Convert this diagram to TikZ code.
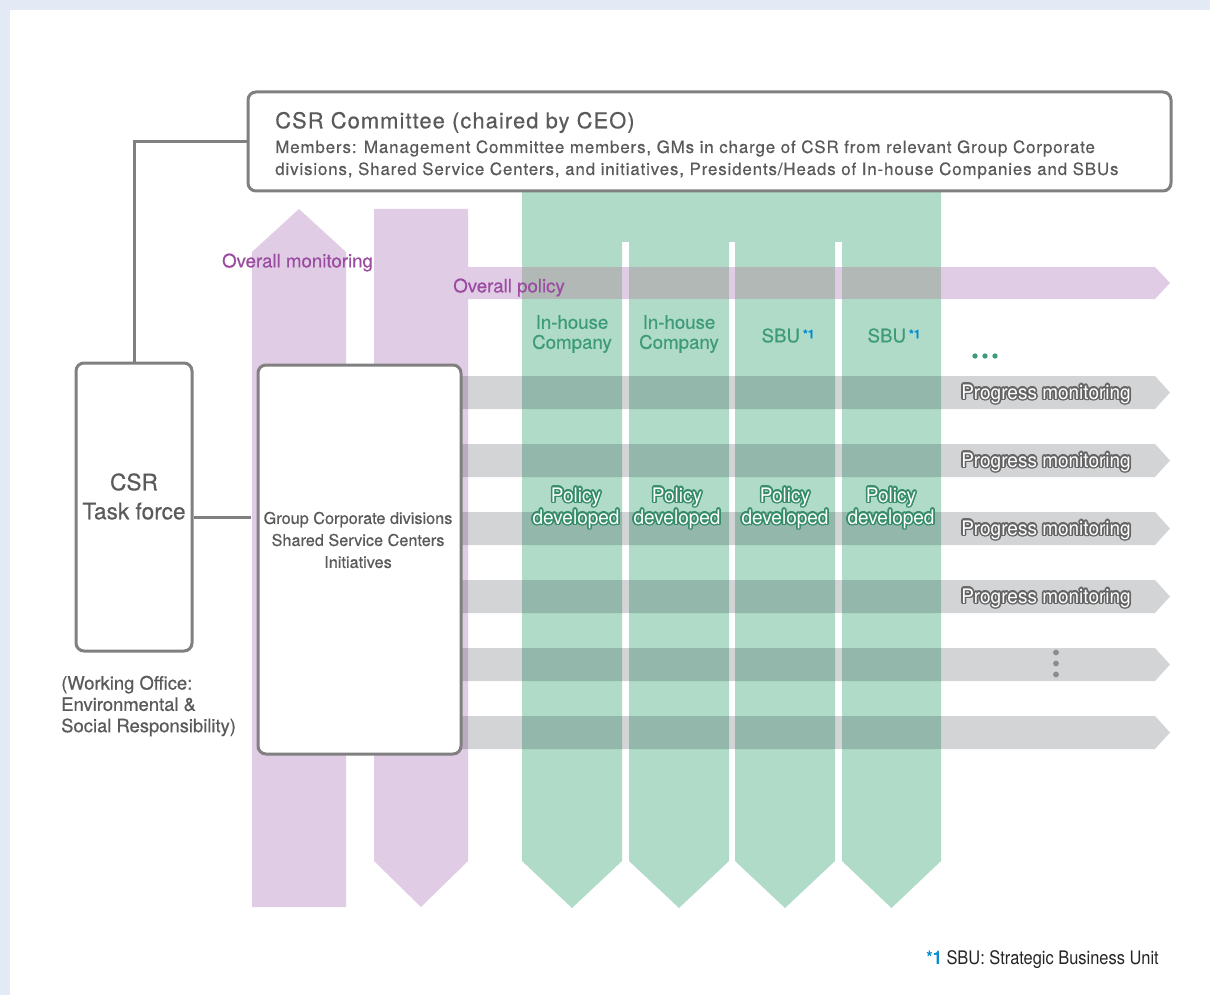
\documentclass[tikz,border=0pt]{standalone}
\usepackage{fontspec}
\setmainfont{TeX Gyre Heros}[FakeBold=0.5]
\newfontfamily\condfont[FakeStretch=0.88]{TeX Gyre Heros}
\newfontfamily\flowfont[FakeStretch=0.95]{TeX Gyre Heros}
\newfontfamily\trackfont[LetterSpace=5,FakeBold=0.5]{TeX Gyre Heros}
\usepackage[copies]{contour}
\contourlength{1.2pt}
\usepackage{tikz}

\definecolor{pagebg}{RGB}{227,233,245}
\definecolor{boxgray}{RGB}{128,128,128}
\definecolor{boxtext}{RGB}{90,90,90}
\definecolor{flowpurple}{RGB}{224,204,228}
\definecolor{purplegreen}{RGB}{177,184,181}
\definecolor{purpletext}{RGB}{155,76,162}
\definecolor{flowgreen}{RGB}{175,219,200}
\definecolor{greentext}{RGB}{62,155,122}
\definecolor{greenedge}{RGB}{52,140,104}
\definecolor{bandshade}{RGB}{35,40,50}
\definecolor{progressedge}{RGB}{100,100,100}
\definecolor{sbublue}{RGB}{0,140,210}
\definecolor{dotgray}{RGB}{140,140,140}

\tikzset{
  orgbox/.style={draw=boxgray, line width=2.25pt, rounded corners=6pt, fill=white, inner sep=0pt},
  conn/.style={draw=boxgray, line width=2.25pt},
  purpleflow/.style={fill=flowpurple},
  greenflow/.style={fill=flowgreen},
  grayflow/.style={fill=bandshade, fill opacity=0.2},
  boxlabel/.style={text=boxtext, inner sep=0.75pt},
  purplelabel/.style={text=purpletext, inner sep=0.75pt, font=\fontsize{14pt}{15pt}\selectfont},
  unitlabel/.style={text=greentext, inner sep=0.75pt, align=center, font=\fontsize{14pt}{15pt}\selectfont},
  policylabel/.style={text=white, inner sep=0.75pt, align=center, font=\flowfont\fontsize{15pt}{15pt}\selectfont},
  progresslabel/.style={text=white, inner sep=0.75pt, font=\flowfont\fontsize{15pt}{15pt}\selectfont}
}

\begin{document}
\begin{tikzpicture}[x=0.75pt,y=0.75pt,yscale=-1,xscale=1]
\useasboundingbox (0,0) rectangle (1210,995);

%Shape: page background
\fill[pagebg] (0,0) rectangle (1210,995);
\fill[white] (10,10) rectangle (1210,995);

%Shape: up arrow (overall monitoring)
\fill[purpleflow] (252,907) -- (252,252) -- (299,209) -- (346,252) -- (346,907) -- cycle;

%Shape: down arrow and overall policy arrow
\fill[purpleflow] (374,209) -- (468,209) -- (468,267) -- (1155,267) -- (1170,283) -- (1155,299) -- (468,299) -- (468,861) -- (421,907) -- (374,861) -- cycle;

%Shape: green columns
\fill[greenflow] (522,192) rectangle (941,242);
\fill[greenflow] (522,192) -- (622,192) -- (622,861) -- (572,908) -- (522,861) -- cycle;
\fill[greenflow] (629,192) -- (729,192) -- (729,861) -- (679,908) -- (629,861) -- cycle;
\fill[greenflow] (735,192) -- (835,192) -- (835,861) -- (785,908) -- (735,861) -- cycle;
\fill[greenflow] (842,192) -- (941,192) -- (941,861) -- (891.5,908) -- (842,861) -- cycle;

%Shape: overall policy over the columns
\fill[purplegreen] (522,267) rectangle (622,299);
\fill[purplegreen] (629,267) rectangle (729,299);
\fill[purplegreen] (735,267) rectangle (835,299);
\fill[purplegreen] (842,267) rectangle (941,299);

%Shape: progress arrows
\fill[grayflow] (459,376) -- (1155,376) -- (1170,392.5) -- (1155,409) -- (459,409) -- cycle;
\fill[grayflow] (459,444) -- (1155,444) -- (1170,460.5) -- (1155,477) -- (459,477) -- cycle;
\fill[grayflow] (459,512) -- (1155,512) -- (1170,528.5) -- (1155,545) -- (459,545) -- cycle;
\fill[grayflow] (459,580) -- (1155,580) -- (1170,596.5) -- (1155,613) -- (459,613) -- cycle;
\fill[grayflow] (459,648) -- (1155,648) -- (1170,664.5) -- (1155,681) -- (459,681) -- cycle;
\fill[grayflow] (459,716) -- (1155,716) -- (1170,732.5) -- (1155,749) -- (459,749) -- cycle;

%Shape: boxes
\node[orgbox, minimum width=692.25pt, minimum height=74.25pt] (committee) at (709.5,141.5) {};
\node[orgbox, minimum width=87pt, minimum height=216pt] (taskforce) at (134,507) {};
\node[orgbox, minimum width=152.25pt, minimum height=291.75pt] (groupdiv) at (359.5,559.5) {};

%Straight Lines
\draw[conn] (committee.west) -| (taskforce.north);
\draw[conn, shorten >=4.5pt] ([yshift=7.5pt]taskforce.east) -- ([yshift=7.5pt]taskforce.east -| groupdiv.west);

% Text Node
\node[boxlabel, anchor=west, font=\trackfont\fontsize{16.4pt}{18pt}\selectfont] (committeetitle) at (274,122.5) {CSR Committee (chaired by CEO)};
% Text Node
\node[boxlabel, anchor=west, align=left, font=\trackfont\fontsize{12.7pt}{16.5pt}\selectfont] (members) at (274,159.5) {Members: Management Committee members, GMs in charge of CSR from relevant Group Corporate\\divisions, Shared Service Centers, and initiatives, Presidents/Heads of In-house Companies and SBUs};
% Text Node
\node[boxlabel, align=center, font=\fontsize{17pt}{21.75pt}\selectfont] (taskforcelabel) at (134,496.5) {CSR\\Task force};
% Text Node
\node[boxlabel, anchor=west, align=left, font=\fontsize{13.8pt}{16pt}\selectfont] (workingoffice) at (60,706) {(Working Office:\\Environmental \&\\Social Responsibility)};
% Text Node
\node[boxlabel, align=center, font=\fontsize{12.2pt}{16.5pt}\selectfont] (groupdivlabel) at (358,540) {Group Corporate divisions\\Shared Service Centers\\Initiatives};

% Text Node
\node[purplelabel] (monitoringlabel) at (297.5,262.5) {Overall monitoring};
% Text Node
\node[purplelabel, anchor=west] (policylabel) at (452,287.5) {Overall policy};

% Text Node
\node[unitlabel] (unitone) at (572,334) {In-house\\Company};
% Text Node
\node[unitlabel] (unittwo) at (679,334) {In-house\\Company};
% Text Node
\node[unitlabel] (unitthree) at (788,335.5) {SBU\,\raisebox{3pt}{\fontsize{9pt}{9pt}\selectfont\bfseries\textcolor{sbublue}{*1}}};
% Text Node
\node[unitlabel] (unitfour) at (894,335.5) {SBU\,\raisebox{3pt}{\fontsize{9pt}{9pt}\selectfont\bfseries\textcolor{sbublue}{*1}}};

%Shape: more units
\fill[greentext] (975,356) circle[radius=2pt];
\fill[greentext] (985,356) circle[radius=2pt];
\fill[greentext] (995,356) circle[radius=2pt];

% Text Node
\node[policylabel] (developedone) at (576,509) {\contour{greenedge}{Policy}\\\contour{greenedge}{developed}};
% Text Node
\node[policylabel] (developedtwo) at (677,509) {\contour{greenedge}{Policy}\\\contour{greenedge}{developed}};
% Text Node
\node[policylabel] (developedthree) at (785,509) {\contour{greenedge}{Policy}\\\contour{greenedge}{developed}};
% Text Node
\node[policylabel] (developedfour) at (891,509) {\contour{greenedge}{Policy}\\\contour{greenedge}{developed}};

% Text Node
\node[progresslabel] (progressone) at (1046,395) {\contour{progressedge}{Progress monitoring}};
% Text Node
\node[progresslabel] (progresstwo) at (1046,463) {\contour{progressedge}{Progress monitoring}};
% Text Node
\node[progresslabel] (progressthree) at (1046,531) {\contour{progressedge}{Progress monitoring}};
% Text Node
\node[progresslabel] (progressfour) at (1046,599) {\contour{progressedge}{Progress monitoring}};

%Shape: more rows
\fill[dotgray] (1056,652.5) circle[radius=2.2pt];
\fill[dotgray] (1056,663.5) circle[radius=2.2pt];
\fill[dotgray] (1056,674.5) circle[radius=2.2pt];

% Text Node
\node[boxlabel, anchor=east, font=\condfont\fontsize{14pt}{16pt}\selectfont, text=black!85] (footnote) at (1160,959.5) {\textcolor{sbublue}{\bfseries *1} SBU: Strategic Business Unit};

\end{tikzpicture}
\end{document}
